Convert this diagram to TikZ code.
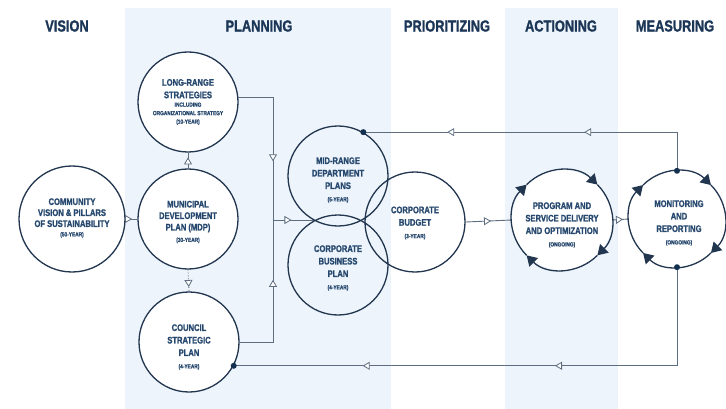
\documentclass[tikz,border=0pt]{standalone}
\usepackage{fontspec}
\setmainfont{Liberation Sans}[FakeStretch=0.8, BoldFeatures={FakeBold=1.2}]
\usetikzlibrary{arrows.meta,decorations.markings}
\definecolor{panelc}{HTML}{EDF4FB}
\definecolor{headc}{HTML}{1B3656}
\definecolor{textc}{HTML}{27486E}
\definecolor{ringc}{HTML}{22364F}
\definecolor{linec}{HTML}{5E6E80}
\definecolor{dotc}{HTML}{14304F}
\newcommand\smtxt{\fontsize{6}{7}\selectfont}
\begin{document}
\begin{tikzpicture}[x=1pt,y=1pt,
  head/.style={text=headc, font=\bfseries\fontsize{16}{18}\selectfont, inner sep=0},
  ring/.style={circle, draw=ringc, line width=1.3pt, fill=white, minimum size=#1, inner sep=0},
  vring/.style={circle, draw=ringc, line width=1.3pt, minimum size=100pt, inner sep=0},
  blank/.style={circle, fill=white, minimum size=#1, inner sep=0},
  txt/.style={align=center, text=textc, font=\bfseries\fontsize{9.5}{12.5}\selectfont, inner sep=0},
  conn/.style={draw=linec, line width=0.9pt},
  hol/.tip={Triangle[length=7pt, width=8pt, fill=white, line width=0.8pt]},
  am/.style={postaction={decorate, decoration={markings, mark=at position #1 with {\arrow{hol}}}}},
  amm/.style 2 args={postaction={decorate, decoration={markings, mark=at position #1 with {\arrow{hol}}, mark=at position #2 with {\arrow{hol}}}}},
  cyc/.style={draw=ringc, line width=1.3pt, -{Triangle[length=10pt,width=12pt]}},
  dotn/.style={fill=dotc}
]
\useasboundingbox (0,0) rectangle (726,-409);
% panels
\fill[panelc] (125,-8) rectangle (391,-409);
\fill[panelc] (505,-8) rectangle (618,-409);
% headers
\node[head] (h1) at (67,-26) {VISION};
\node[head] (h2) at (259,-26) {PLANNING};
\node[head] (h3) at (447,-26) {PRIORITIZING};
\node[head] (h4) at (561,-26) {ACTIONING};
\node[head] (h5) at (675,-26) {MEASURING};
% circles with white fill
\node[ring=106pt] (cv) at (72,-219) {};
\node[ring=100pt] (lr) at (188,-102) {};
\node[ring=100pt] (mdp) at (188,-219) {};
\node[ring=100pt] (cs) at (189,-342) {};
\node[blank=100pt] (pg) at (562,-220) {};
\node[blank=96pt] (mon) at (677,-219) {};
\coordinate (j) at (273,-220);
\coordinate (venn) at (314,-220);
% connectors
\draw[conn, am=0.55] (cv.east) -- (mdp.west);
\draw[conn, am=0.7] (mdp.north) -- (lr.south);
\draw[conn, dotted, am=0.8] (mdp.south) -- (cs.north);
\draw[conn, am=0.626] (lr.5) -| (j);
\draw[conn, am=0.615] (cs.east) -| (j);
\draw[conn, am=0.45] (j) -- (venn);
% venn circles
\node[vring] (mr) at (338,-176) {};
\node[vring] (bus) at (338,-265) {};
\node[vring] (bud) at (415,-222) {};
\draw[conn, am=0.55] (bud.east) -- (pg.west);
\draw[conn, am=0.65] (pg.east) -- (mon.west);
\draw[conn, amm={0.373}{0.762}] (mon.north) |- (mr.60);
\draw[conn, amm={0.407}{0.762}] (mon.south) |- (cs.-28);
% cycle circles
\foreach \a in {135,45,-45,-135}{
  \draw[cyc] ([shift={(\a:50)}]pg.center) arc[start angle=\a, end angle=\a-90, radius=50pt];
  \draw[cyc] ([shift={(\a:48)}]mon.center) arc[start angle=\a, end angle=\a-90, radius=48pt];
}
% texts
\node[txt] (cvt) at (72,-218) {COMMUNITY\\[-1.5pt]VISION \& PILLARS\\[-1.5pt]OF SUSTAINABILITY\\[-3pt]{\smtxt (50-YEAR)}};
\node[txt] (lrt) at (188,-102) {LONG-RANGE\\STRATEGIES\\[-4pt]{\smtxt INCLUDING}\\[-4pt]{\smtxt ORGANIZATIONAL STRATEGY}\\[-4pt]{\smtxt (10-YEAR)}};
\node[txt] (mdpt) at (188,-222) {MUNICIPAL\\[-1pt]DEVELOPMENT\\[-1pt]PLAN (MDP)\\[-1pt]{\smtxt (30-YEAR)}};
\node[txt] (cst) at (189,-347) {COUNCIL\\STRATEGIC\\PLAN\\{\smtxt (4-YEAR)}};
\node[txt] (mrt) at (338,-180) {MID-RANGE\\DEPARTMENT\\PLANS\\{\smtxt (5-YEAR)}};
\node[txt] (bust) at (338,-268) {CORPORATE\\BUSINESS\\PLAN\\{\smtxt (4-YEAR)}};
\node[txt] (budt) at (415,-223) {CORPORATE\\BUDGET\\{\smtxt (3-YEAR)}};
\node[txt] (pgt) at (562,-225) {PROGRAM AND\\SERVICE DELIVERY\\AND OPTIMIZATION\\{\smtxt (ONGOING)}};
\node[txt] (mont) at (679,-223) {MONITORING\\AND\\REPORTING\\{\smtxt (ONGOING)}};
% dots
\fill[dotn] (mon.north) circle (3pt);
\fill[dotn] (mr.60) circle (3pt);
\fill[dotn] (mon.south) circle (3pt);
\fill[dotn] (cs.-28) circle (3pt);
\end{tikzpicture}
\end{document}
